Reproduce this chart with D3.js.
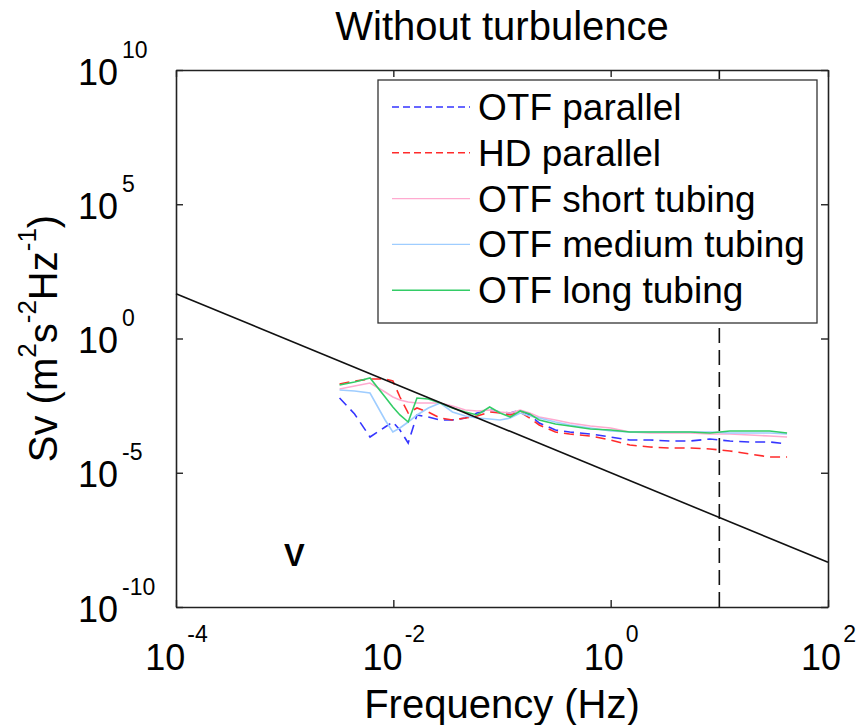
<!DOCTYPE html>
<html>
<head>
<meta charset="utf-8">
<script src="https://cdn.jsdelivr.net/npm/d3@7"></script>
<style>
  body { margin: 0; background: #fff; }
  svg { font-family: "Liberation Sans", Arial, sans-serif; }
</style>
</head>
<body>
<div id="chart"></div>
<script>
// frequencies (Hz) of the spectral estimates
var freqHz = [0.0032, 0.0044, 0.0061, 0.0084, 0.0099, 0.0115, 0.0137, 0.0165, 0.021, 0.027,
  0.035, 0.046, 0.059, 0.077, 0.096, 0.119, 0.147, 0.18, 0.22, 0.31,
  0.42, 0.65, 1.0, 1.5, 2.3, 3.5, 5.4, 8.2, 12.5, 19, 29, 42];

var otfParallel = [0.00608, 0.00154, 0.000214, 0.000506, 0.000776, 0.000391, 0.000128, 0.00142, 0.00119, 0.000923,
  0.000923, 0.00109, 0.00168, 0.00217, 0.00183, 0.00168, 0.00217, 0.00142, 0.000713, 0.000391,
  0.000330, 0.000277, 0.000214, 0.000166, 0.000166, 0.000152, 0.000152, 0.000180, 0.000152, 0.000140, 0.000140, 0.000118];

var hdParallel = [0.0202, 0.0261, 0.0310, 0.0310, 0.0261, 0.00662, 0.00168, 0.00258, 0.00183, 0.00109,
  0.000923, 0.00109, 0.00130, 0.00183, 0.00168, 0.00142, 0.00183, 0.00109, 0.000600, 0.000330,
  0.000277, 0.000234, 0.000166, 0.000108, 0.0000910, 0.0000836, 0.0000836, 0.0000767, 0.0000646, 0.0000499, 0.0000386, 0.0000386];

var otfShort = [0.0132, 0.0170, 0.0220, 0.0102, 0.00662, 0.00512, 0.00432, 0.00396, 0.00396, 0.00396,
  0.00306, 0.00217, 0.00200, 0.00217, 0.00183, 0.00168, 0.00217, 0.00168, 0.00119, 0.000923,
  0.000713, 0.000551, 0.000465, 0.000330, 0.000302, 0.000302, 0.000302, 0.000277, 0.000277, 0.000255, 0.000234, 0.000214];

var otfMedium = [0.0121, 0.0111, 0.00933, 0.000923, 0.000330, 0.000465, 0.000776, 0.00142, 0.00258, 0.00396,
  0.00183, 0.00130, 0.00109, 0.00100, 0.000923, 0.00109, 0.00168, 0.00130, 0.00109, 0.000776,
  0.000600, 0.000465, 0.000359, 0.000330, 0.000330, 0.000330, 0.000330, 0.000330, 0.000302, 0.000302, 0.000302, 0.000277];

var otfLong = [0.0185, 0.0240, 0.0338, 0.00662, 0.00281, 0.00142, 0.000776, 0.00608, 0.00558, 0.00396,
  0.00258, 0.00183, 0.00142, 0.00281, 0.00168, 0.00119, 0.00200, 0.00154, 0.000923, 0.000655,
  0.000551, 0.000426, 0.000391, 0.000330, 0.000330, 0.000330, 0.000330, 0.000302, 0.000359, 0.000359, 0.000359, 0.000302];

// -5/3 reference slope and the cut-off frequency
var refFreq = [1e-4, 1e2];
var refSv = [46.4, 4.64e-9];
var cutoffHz = 10;
var cutoffSv = [1e-10, 1e10];

var xTicks = [1e-4, 1e-2, 1, 1e2];
var xTickExp = ['-4', '-2', '0', '2'];
var yTicks = [1e-10, 1e-5, 1, 1e5, 1e10];
var yTickExp = ['-10', '-5', '0', '5', '10'];

var seriesNames = ['OTF parallel', 'HD parallel', 'OTF short tubing', 'OTF medium tubing', 'OTF long tubing'];
var seriesColors = ['#3535ff', '#ff2b2b', '#ffaad0', '#9fcdff', '#33cc66'];
var seriesDash = ['10,6', '10,6', null, null, null];
var seriesValues = [otfParallel, hdParallel, otfShort, otfMedium, otfLong];

var width = 858, height = 725;
var plotL = 176, plotR = 828, plotT = 70, plotB = 607;
var fs = 36, supFs = 23, labelFs = 40, labelSupFs = 26, legendFs = 37;

var svg = d3.select('#chart').append('svg')
    .attr('width', width)
    .attr('height', height);

var x = d3.scaleLog().domain([1e-4, 1e2]).range([plotL, plotR]);
var y = d3.scaleLog().domain([1e-10, 1e10]).range([plotB, plotT]);

var line = d3.line()
    .x(function (d) { return x(d[0]); })
    .y(function (d) { return y(d[1]); });

var noLabel = function () { return ''; };

// axes with inward ticks on all four sides
var gx = svg.append('g').attr('transform', 'translate(0,' + plotB + ')')
    .call(d3.axisBottom(x).tickValues(xTicks).tickSize(-7).tickSizeOuter(0).tickFormat(noLabel));
svg.append('g').attr('transform', 'translate(0,' + plotT + ')')
    .call(d3.axisTop(x).tickValues(xTicks).tickSize(-7).tickSizeOuter(0).tickFormat(noLabel));
var gy = svg.append('g').attr('transform', 'translate(' + plotL + ',0)')
    .call(d3.axisLeft(y).tickValues(yTicks).tickSize(-7).tickSizeOuter(0).tickFormat(noLabel));
svg.append('g').attr('transform', 'translate(' + plotR + ',0)')
    .call(d3.axisRight(y).tickValues(yTicks).tickSize(-7).tickSizeOuter(0).tickFormat(noLabel));

svg.selectAll('.domain').attr('stroke', '#222').attr('stroke-width', 1.6);
svg.selectAll('.tick line').attr('stroke', '#222').attr('stroke-width', 1.4);

gx.selectAll('.tick text').each(function (d, i) {
    var t = d3.select(this)
        .attr('y', 63).attr('dy', null)
        .attr('font-size', fs).attr('fill', '#000')
        .attr('text-anchor', 'middle').text('10');
    t.append('tspan').attr('font-size', supFs).attr('dx', 2).attr('dy', -28).text(xTickExp[i]);
});

gy.selectAll('.tick text').each(function (d, i) {
    var t = d3.select(this)
        .attr('x', -98).attr('y', 14).attr('dy', null)
        .attr('font-size', fs).attr('fill', '#000')
        .attr('text-anchor', 'start').text('10');
    t.append('tspan').attr('font-size', supFs).attr('dx', 4).attr('dy', -27).text(yTickExp[i]);
});

// spectra
seriesValues.forEach(function (vals, i) {
    svg.append('path')
        .datum(freqHz.map(function (f, j) { return [f, vals[j]]; }))
        .attr('fill', 'none')
        .attr('stroke', seriesColors[i])
        .attr('stroke-width', 1.6)
        .attr('stroke-dasharray', seriesDash[i])
        .attr('d', line);
});

svg.append('path')
    .datum(refFreq.map(function (f, j) { return [f, refSv[j]]; }))
    .attr('fill', 'none')
    .attr('stroke', '#111')
    .attr('stroke-width', 1.6)
    .attr('d', line);

svg.append('path')
    .datum(cutoffSv.map(function (s) { return [cutoffHz, s]; }))
    .attr('fill', 'none')
    .attr('stroke', '#111')
    .attr('stroke-width', 1.6)
    .attr('stroke-dasharray', '15,7')
    .attr('d', line);

// legend
var lg = svg.append('g');
lg.append('rect')
    .attr('x', 378).attr('y', 80)
    .attr('width', 439).attr('height', 243)
    .attr('fill', '#fff').attr('stroke', '#333').attr('stroke-width', 1.3);
seriesNames.forEach(function (name, i) {
    var by = 120 + i * 45.8;
    lg.append('line')
        .attr('x1', 392).attr('x2', 470)
        .attr('y1', by - 13).attr('y2', by - 13)
        .attr('stroke', seriesColors[i])
        .attr('stroke-width', 1.4)
        .attr('stroke-dasharray', seriesDash[i] ? '7,4' : null);
    lg.append('text')
        .attr('x', 478).attr('y', by)
        .attr('font-size', legendFs)
        .text(name);
});

svg.append('text')
    .attr('x', 284).attr('y', 566)
    .attr('font-size', 31).attr('font-weight', 'bold')
    .text('V');

svg.append('text')
    .attr('x', (plotL + plotR) / 2).attr('y', 40)
    .attr('text-anchor', 'middle').attr('font-size', labelFs)
    .text('Without turbulence');

svg.append('text')
    .attr('x', (plotL + plotR) / 2).attr('y', 718)
    .attr('text-anchor', 'middle').attr('font-size', labelFs)
    .text('Frequency (Hz)');

var yl = svg.append('text')
    .attr('transform', 'translate(57,' + ((plotT + plotB) / 2) + ') rotate(-90)')
    .attr('text-anchor', 'middle').attr('font-size', labelFs);
yl.append('tspan').text('Sv (m');
yl.append('tspan').attr('font-size', labelSupFs).attr('dy', -21).text('2');
yl.append('tspan').attr('dy', 21).text('s');
yl.append('tspan').attr('font-size', labelSupFs).attr('dy', -21).text('-2');
yl.append('tspan').attr('dy', 21).text('Hz');
yl.append('tspan').attr('font-size', labelSupFs).attr('dy', -21).text('-1');
yl.append('tspan').attr('dy', 21).text(')');
</script>
</body>
</html>
